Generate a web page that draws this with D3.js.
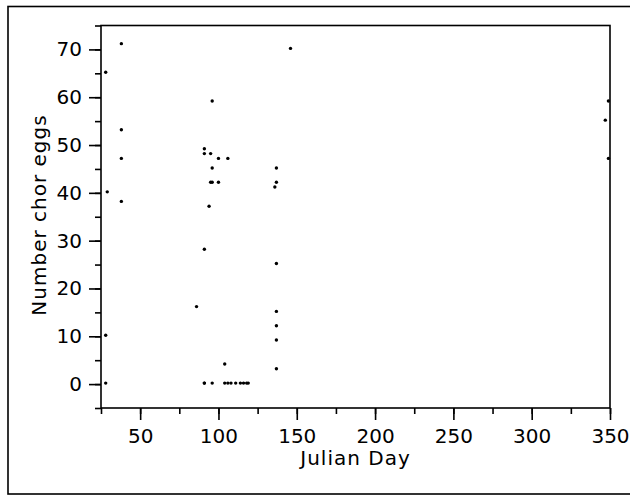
<!DOCTYPE html>
<html>
<head>
<meta charset="utf-8">
<script src="https://cdn.jsdelivr.net/npm/d3@7"></script>
<style>
  body { margin: 0; background: #fff; }
  text { font-family: "DejaVu Sans", sans-serif; fill: #000; }
</style>
</head>
<body>
<div class="js-chart"></div>
<script>
// Julian day / number of chorion eggs
var days = [28, 29, 28, 28, 38, 38, 38, 38,
  86, 91, 91, 91, 95, 96, 96, 95, 96, 100, 100, 106, 94, 91, 104,
  91, 96, 104, 106, 108, 111, 114, 116, 118, 119,
  137, 137, 136, 137, 137, 137, 137, 137, 146,
  349, 347, 349];
var eggs = [65, 40, 10, 0, 71, 53, 47, 38,
  16, 49, 48, 28, 48, 59, 45, 42, 42, 42, 47, 47, 37, 0, 4,
  0, 0, 0, 0, 0, 0, 0, 0, 0, 0,
  45, 42, 41, 25, 15, 12, 9, 3, 70,
  59, 55, 47];

var xMajor = [50, 100, 150, 200, 250, 300, 350];
var xMinor = d3.range(25, 351, 25);
var yMajor = [0, 10, 20, 30, 40, 50, 60, 70];
var yMinor = d3.range(-5, 76, 5);

var width = 630, height = 496;
var plot = {left: 101, right: 610, top: 25.5, bottom: 408};

var svg = d3.select('.js-chart')
  .append('svg')
  .attr('width', width)
  .attr('height', height);

// outer frame (right edge runs off the picture)
svg.append('rect')
  .attr('x', 8).attr('y', 6.5)
  .attr('width', 640).attr('height', 487.5)
  .attr('fill', 'none')
  .attr('stroke', '#000')
  .attr('stroke-width', 1.6);

var x = d3.scaleLinear().domain([25, 350]).range([plot.left, plot.right]);
var y = d3.scaleLinear().domain([-5, 75]).range([plot.bottom, plot.top]);

function styleAxis(g) {
  g.select('.domain').remove();
  g.selectAll('line').attr('stroke', '#000').attr('stroke-width', 1.6);
  g.selectAll('text').style('font-size', '20px').attr('fill', '#000');
}

svg.append('g')
  .attr('transform', 'translate(0,' + plot.bottom + ')')
  .call(d3.axisBottom(x).tickValues(xMinor).tickSize(6).tickFormat(''))
  .call(styleAxis);
svg.append('g')
  .attr('transform', 'translate(0,' + plot.bottom + ')')
  .call(d3.axisBottom(x).tickValues(xMajor).tickSize(12).tickPadding(9).tickFormat(d3.format('d')))
  .call(styleAxis);

svg.append('g')
  .attr('transform', 'translate(' + plot.left + ',0)')
  .call(d3.axisLeft(y).tickValues(yMinor).tickSize(6).tickFormat(''))
  .call(styleAxis);
svg.append('g')
  .attr('transform', 'translate(' + plot.left + ',0)')
  .call(d3.axisLeft(y).tickValues(yMajor).tickSize(12).tickPadding(7).tickFormat(d3.format('d')))
  .call(styleAxis);

// plot frame
svg.append('rect')
  .attr('x', plot.left).attr('y', plot.top)
  .attr('width', plot.right - plot.left)
  .attr('height', plot.bottom - plot.top)
  .attr('fill', 'none')
  .attr('stroke', '#000')
  .attr('stroke-width', 1.6);

svg.selectAll('.dot')
  .data(days)
  .enter()
  .append('circle')
  .classed('dot', true)
  .attr('cx', function(d) { return x(d); })
  .attr('cy', function(d, i) { return y(eggs[i]) - 1; })
  .attr('r', 1.7)
  .attr('fill', '#000');

svg.append('text')
  .attr('x', (plot.left + plot.right) / 2)
  .attr('y', 465)
  .attr('text-anchor', 'middle')
  .style('font-size', '20px')
  .style('letter-spacing', '1px')
  .text('Julian Day');

svg.append('text')
  .attr('transform', 'translate(46,' + 215 + ') rotate(-90)')
  .attr('text-anchor', 'middle')
  .style('font-size', '20px')
  .style('letter-spacing', '1px')
  .text('Number chor eggs');
</script>
</body>
</html>
